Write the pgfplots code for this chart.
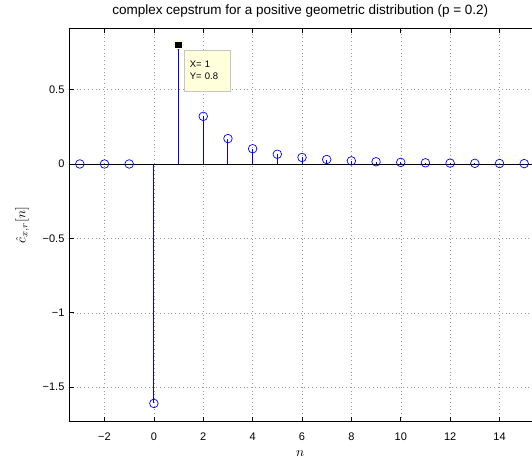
\documentclass[border=0pt]{standalone}
\usepackage{pgfplots}
\pgfplotsset{compat=1.18}
\usepackage{fontspec}
\setmainfont{Liberation Sans}
\definecolor{mblue}{rgb}{0,0,1}
\definecolor{tipyellow}{rgb}{1,1,0.86}
\pgfplotstableread{
n c
-3 0
-2 0
-1 0
0 -1.6094
1 0.8
2 0.32
3 0.170667
4 0.1024
5 0.065536
6 0.043691
7 0.029959
8 0.020972
9 0.014913
10 0.010737
11 0.007809
12 0.005727
13 0.004228
14 0.003141
15 0.002345
}\cep
\begin{document}
\begin{tikzpicture}
\begin{axis}[
  name=ax,
  scale only axis, width=463pt, height=394pt,
  xmin=-3.44, xmax=15.3, ymin=-1.732, ymax=0.914,
  axis y line*=left,
  axis line style={line width=0.8pt},
  xtick={-2,0,...,14}, ytick={-1.5,-1,-0.5,0,0.5},
  xticklabels={−2,0,2,4,6,8,10,12,14},
  yticklabels={−1.5,−1,−0.5,0,0.5},
  tick align=inside, major tick length=4.6pt,
  tick style={black, line width=0.6pt},
  grid=major,
  grid style={gray!80, line width=0.5pt, dash pattern=on 0.8pt off 3pt},
  tick label style={font=\fontsize{11}{13}\selectfont},
  xticklabel style={yshift=-8pt},
  yticklabel style={xshift=-1pt},
  title={complex cepstrum for a positive geometric distribution (p = 0.2)},
  title style={font=\fontsize{13.5}{15}\selectfont, yshift=1pt},
  xlabel={$n$}, ylabel={$\hat{c}_{x,r}[n]$},
  xlabel style={scale=1.35, yshift=-1pt},
  ylabel style={scale=1.35, yshift=4pt},
  clip=false,
]
\addplot[black, line width=0.8pt, forget plot] coordinates {(-3.44,0) (15.3,0)};
\addplot[ycomb, color=mblue, draw=mblue, line width=1pt, mark=o, mark size=4.3pt,
  mark options={line width=0.7pt, draw=mblue}] table[x=n, y=c] {\cep};
\addplot[only marks, mark=square*, mark size=3.8pt,
  mark options={fill=black, draw=tipyellow, line width=1.4pt}] coordinates {(1,0.8)};
\node[anchor=north west, fill=tipyellow, draw=gray!45, line width=0.6pt,
  font=\fontsize{9.5}{12}\selectfont, align=left, text width=34pt,
  minimum height=41pt, inner xsep=6pt, inner ysep=3pt]
  at ([xshift=5pt,yshift=-5pt]axis cs:1,0.8) {X= 1\\Y= 0.8};
\end{axis}
\path (ax.south west) ++(-69pt,-37pt) (ax.north east) ++(0,28pt);
\end{tikzpicture}
\end{document}
